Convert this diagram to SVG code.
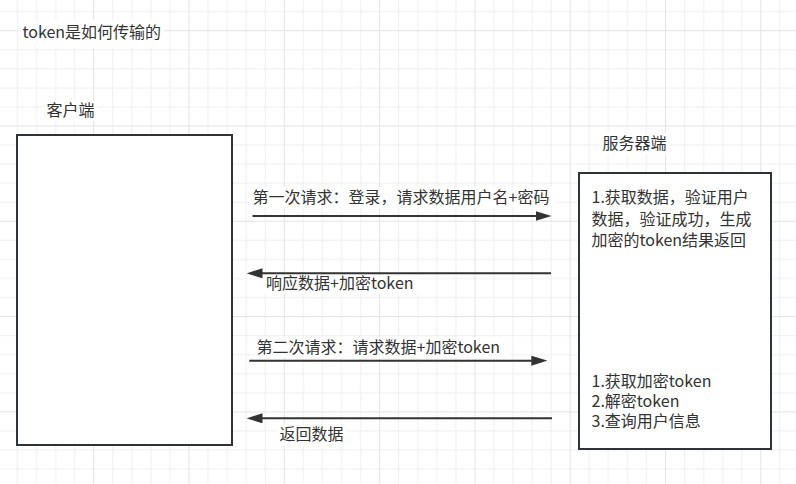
<svg xmlns="http://www.w3.org/2000/svg" width="796" height="484" viewBox="0 0 796 484">
  <style>
    .txt { font-family: 'Noto Sans CJK SC', 'Noto Sans', sans-serif; font-size: 16px; fill: #333333; }
    .box { fill: #ffffff; stroke: #2e3338; stroke-width: 2; }
    .bg { fill: #ffffff; }
    .edge { fill: none; stroke: #333333; stroke-width: 2; }
    .minor { fill: #efefef; }
    .major { fill: #e3e3e3; }
  </style>
  <defs>
    <!-- background grid: minor cell 19.06px, major line every 5 cells -->
    <pattern id="grid" patternUnits="userSpaceOnUse" x="-2.1" y="30.2" width="95.3" height="95.3">
      <rect class="minor" x="19.06" y="0" width="1" height="95.3"/>
      <rect class="minor" x="38.12" y="0" width="1" height="95.3"/>
      <rect class="minor" x="57.18" y="0" width="1" height="95.3"/>
      <rect class="minor" x="76.24" y="0" width="1" height="95.3"/>
      <rect class="minor" x="0" y="19.06" width="95.3" height="1"/>
      <rect class="minor" x="0" y="38.12" width="95.3" height="1"/>
      <rect class="minor" x="0" y="57.18" width="95.3" height="1"/>
      <rect class="minor" x="0" y="76.24" width="95.3" height="1"/>
      <rect class="major" x="0" y="0" width="1" height="95.3"/>
      <rect class="major" x="0" y="0" width="95.3" height="1"/>
    </pattern>
    <marker id="arrow" markerUnits="userSpaceOnUse" viewBox="0 0 16 10" refX="12" refY="5" markerWidth="16" markerHeight="10" orient="auto">
      <polygon points="0,0 16,5 0,10" fill="#333333"/>
    </marker>
  </defs>

  <rect x="0" y="0" width="796" height="484" fill="#ffffff"/>
  <rect x="0" y="0" width="796" height="484" fill="url(#grid)"/>

  <!-- title -->
  <g id="title">
    <rect class="bg" x="18" y="20" width="146" height="28"/>
    <text class="txt" x="22.5" y="37.5">token是如何传输的</text>
  </g>

  <!-- client -->
  <g id="client">
    <rect class="bg" x="44" y="101" width="54" height="20"/>
    <text class="txt" x="46.5" y="115.5">客户端</text>
    <rect class="box" x="17" y="135" width="215" height="310"/>
  </g>

  <!-- server -->
  <g id="server">
    <rect class="bg" x="600" y="133" width="70" height="21"/>
    <text class="txt" x="602.5" y="149">服务器端</text>
    <rect class="box" x="579" y="173" width="192" height="276"/>
    <text class="txt" x="591.5" y="203">1.获取数据，验证用户</text>
    <text class="txt" x="591.5" y="224.5">数据，验证成功，生成</text>
    <text class="txt" x="591.5" y="246">加密的token结果返回</text>
    <text class="txt" x="591.5" y="386.5">1.获取加密token</text>
    <text class="txt" x="591.5" y="407">2.解密token</text>
    <text class="txt" x="591.5" y="427">3.查询用户信息</text>
  </g>

  <!-- connectors with their labels -->
  <g id="connectors">
    <rect class="bg" x="250" y="187" width="307" height="21"/>
    <rect class="bg" x="264" y="275.5" width="156" height="19"/>
    <rect class="bg" x="255" y="337" width="254" height="21"/>
    <rect class="bg" x="277" y="425" width="69" height="21"/>

    <path class="edge" d="M252.5 216 L547.5 216" marker-end="url(#arrow)"/>
    <path class="edge" d="M551 273.3 L250.5 273.3" marker-end="url(#arrow)"/>
    <path class="edge" d="M249.3 360.7 L543.3 360.7" marker-end="url(#arrow)"/>
    <path class="edge" d="M552 418.3 L250.5 418.3" marker-end="url(#arrow)"/>

    <text class="txt" x="252.5" y="203">第一次请求：登录，请求数据用户名+密码</text>
    <text class="txt" x="266" y="289">响应数据+加密token</text>
    <text class="txt" x="256.5" y="352.5">第二次请求：请求数据+加密token</text>
    <text class="txt" x="279.5" y="440">返回数据</text>
  </g>
</svg>
